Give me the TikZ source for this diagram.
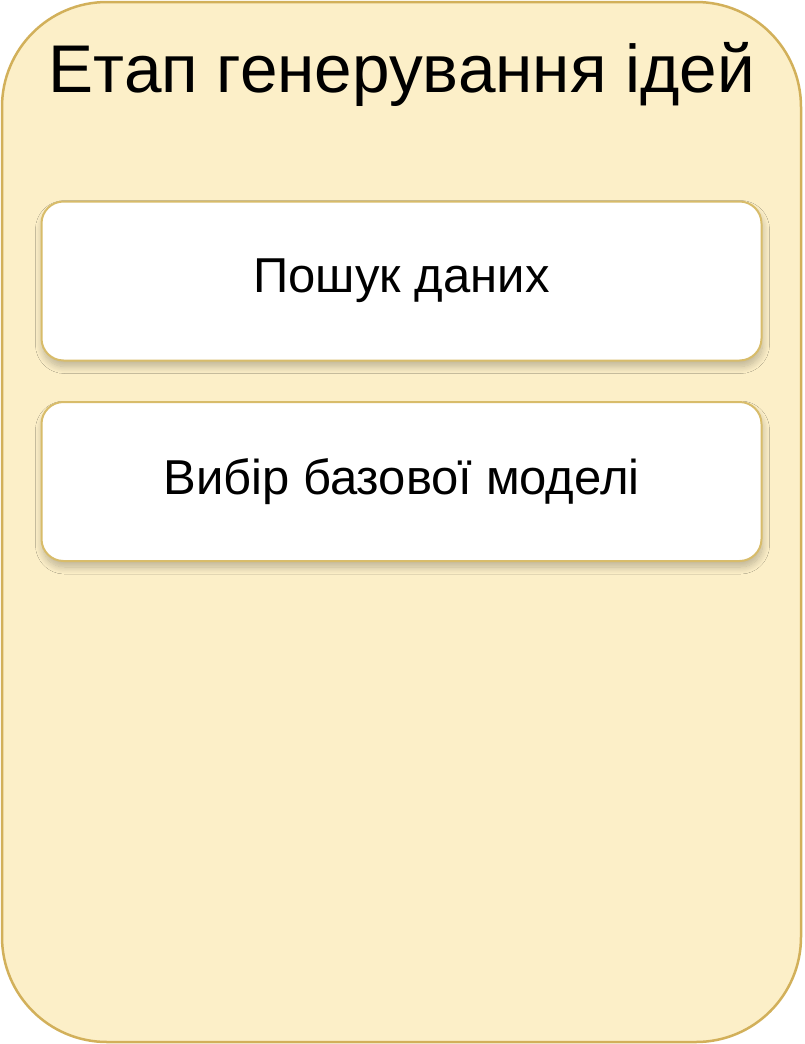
\documentclass[tikz,border=0pt]{standalone}
\usepackage{fontspec}
\setmainfont{Liberation Sans}
\usetikzlibrary{shadows.blur}
\definecolor{panelfill}{HTML}{FCEFC8}
\definecolor{panelline}{HTML}{D2B05A}
\definecolor{boxline}{HTML}{D8BC6A}
\tikzset{
  panel/.style={draw=panelline, line width=2.5pt, fill=panelfill, rounded corners=105pt},
  stepbox/.style={draw=boxline, line width=2pt, fill=white, rounded corners=22pt,
    minimum width=720pt, minimum height=159pt, inner sep=0pt,
    blur shadow={shadow xshift=1pt, shadow yshift=-6pt, shadow blur steps=12, shadow blur radius=7pt, shadow opacity=25},
    font=\fontsize{49}{56}\selectfont},
  titletext/.style={font=\fontsize{67.5}{78}\selectfont, inner sep=0pt}
}
\begin{document}
\begin{tikzpicture}[x=1pt,y=1pt]
\useasboundingbox (0,0) rectangle (804,-1044);
\path[panel] (2,-2) rectangle (801,-1042);
\node[titletext] (title) at (402,-74) {Етап генерування ідей};
\node[stepbox] (b1) at (401.5,-281) {Пошук даних};
\node[stepbox] (b2) at (401.5,-481.5) {Вибір базової моделі};
\end{tikzpicture}
\end{document}
